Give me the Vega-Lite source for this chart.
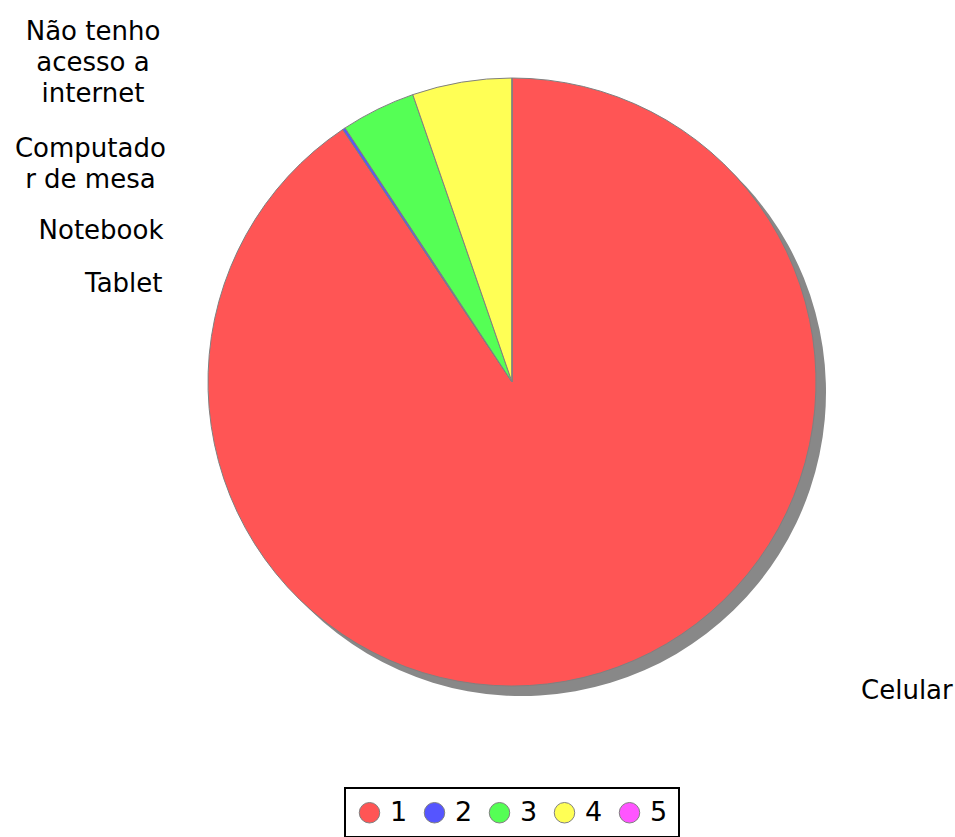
{
  "$schema": "https://vega.github.io/schema/vega-lite/v6.json",
  "width": 886,
  "height": 764,
  "autosize": "none",
  "padding": {"left": 69, "top": 0, "right": 0, "bottom": 73},
  "background": "white",
  "config": {
    "view": {"stroke": null},
    "font": "DejaVu Sans",
    "text": {"font": "DejaVu Sans", "fontSize": 26, "lineHeight": 31, "lineBreak": "\n", "baseline": "middle"},
    "legend": {"layout": {"bottom": {"anchor": "middle"}}}
  },
  "data": {
    "values": [
      {"idx": "1", "label": "Celular", "value": 90.6},
      {"idx": "2", "label": "Tablet", "value": 0.15},
      {"idx": "3", "label": "Notebook", "value": 3.96},
      {"idx": "4", "label": "Computado\nr de mesa", "value": 5.29},
      {"idx": "5", "label": "Não tenho \nacesso a \n internet", "value": 0}
    ]
  },
  "encoding": {
    "theta": {"field": "value", "type": "quantitative", "stack": true},
    "order": {"field": "idx", "type": "ordinal"}
  },
  "layer": [
    {
      "mark": {"type": "arc", "radius": 304, "xOffset": 10, "yOffset": 10, "color": "#888888"}
    },
    {
      "mark": {"type": "arc", "radius": 304, "stroke": "#808080", "strokeWidth": 1},
      "encoding": {
        "color": {
          "field": "idx", "type": "nominal",
          "scale": {"domain": ["1", "2", "3", "4", "5"], "range": ["#FF5555", "#5555FF", "#55FF55", "#FFFF55", "#FF55FF"]},
          "legend": {
            "title": null, "orient": "bottom", "direction": "horizontal", "offset": 24,
            "symbolType": "circle", "symbolSize": 420, "symbolStrokeColor": "#808080", "symbolStrokeWidth": 1, "symbolOpacity": 1,
            "labelFont": "DejaVu Sans", "labelFontSize": 27, "labelColor": "black", "labelOffset": 7,
            "columnPadding": 13, "padding": 11, "strokeColor": "black",
            "encode": {"legend": {"update": {"strokeWidth": {"value": 2}}}}
          }
        }
      }
    },
    {
      "mark": {"type": "text", "radius": 330, "align": "left", "dx": 253, "dy": -7},
      "encoding": {"text": {"condition": {"test": "datum.idx === '1'", "field": "label"}, "value": ""}}
    },
    {
      "mark": {"type": "text", "radius": 330, "align": "right", "dx": -167, "dy": 177},
      "encoding": {"text": {"condition": {"test": "datum.idx === '2'", "field": "label"}, "value": ""}}
    },
    {
      "mark": {"type": "text", "radius": 330, "align": "right", "dx": -203, "dy": 145},
      "encoding": {"text": {"condition": {"test": "datum.idx === '3'", "field": "label"}, "value": ""}}
    },
    {
      "mark": {"type": "text", "radius": 330, "align": "center", "dx": -367, "dy": 92},
      "encoding": {"text": {"condition": {"test": "datum.idx === '4'", "field": "label"}, "value": ""}}
    },
    {
      "mark": {"type": "text", "radius": 330, "align": "center", "dx": -419, "dy": -20},
      "encoding": {"text": {"condition": {"test": "datum.idx === '5'", "field": "label"}, "value": ""}}
    }
  ]
}
